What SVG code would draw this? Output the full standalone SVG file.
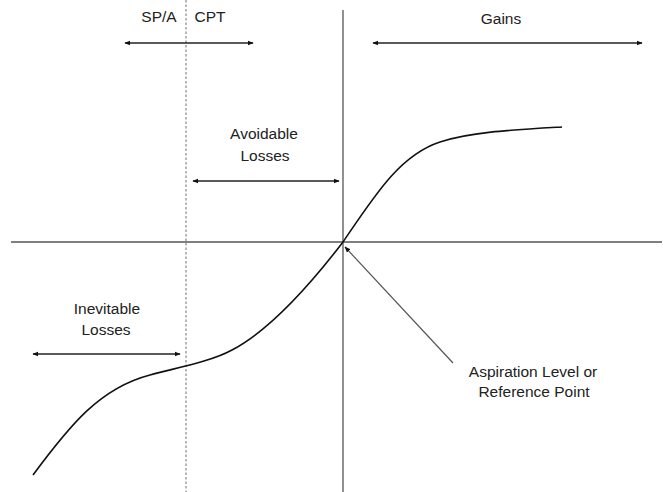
<svg xmlns="http://www.w3.org/2000/svg" width="663" height="492" viewBox="0 0 663 492">
<style>
text{font-family:"Liberation Sans",Arial,sans-serif;font-size:15.5px;fill:#222;text-anchor:middle}
.axis{stroke:#555;stroke-width:1.3;fill:none}
.dash{stroke:#888;stroke-width:1.2;stroke-dasharray:2.5 2;fill:none}
.rng{stroke:#222;stroke-width:1.3;fill:none;marker-start:url(#ah);marker-end:url(#ah)}
.curve{stroke:#111;stroke-width:1.6;fill:none}
.ptr{stroke:#555;stroke-width:1.2;fill:none;marker-end:url(#ah)}
</style>
<defs>
<marker id="ah" viewBox="0 0 10 10" refX="9" refY="5" markerWidth="6" markerHeight="6" orient="auto-start-reverse" markerUnits="userSpaceOnUse">
<path d="M0,1 L10,5 L0,9 Z" fill="#111"/>
</marker>
</defs>
<rect width="663" height="492" fill="#fff"/>
<g id="axes">
<line class="axis" x1="343" y1="10" x2="343" y2="492"/>
<line class="axis" x1="11" y1="242" x2="662" y2="242"/>
<line class="dash" x1="186" y1="0" x2="186" y2="492"/>
</g>
<g id="curve">
<path class="curve" d="M33,475 C70,425 100,388 150,375 C175,368 210,362 232,350 C270,330 310,285 343,242 C375,195 400,155 440,142 C470,132 510,130 562,127"/>
</g>
<g id="connectors">
<line class="rng" x1="125" y1="43" x2="253" y2="43"/>
<line class="rng" x1="373" y1="43" x2="642" y2="43"/>
<line class="rng" x1="193" y1="181" x2="339" y2="181"/>
<line class="rng" x1="33" y1="354" x2="180" y2="354"/>
<line class="ptr" x1="453" y1="363" x2="345" y2="247"/>
</g>
<g id="spa"><text x="159" y="22">SP/A</text></g>
<g id="cpt"><text x="210" y="22">CPT</text></g>
<g id="gains"><text x="501" y="24">Gains</text></g>
<g id="avoidable"><text x="264" y="139">Avoidable</text><text x="265" y="161">Losses</text></g>
<g id="inevitable"><text x="107" y="314">Inevitable</text><text x="106" y="335">Losses</text></g>
<g id="aspiration"><text x="533" y="377">Aspiration Level or</text><text x="534" y="397">Reference Point</text></g>
</svg>
